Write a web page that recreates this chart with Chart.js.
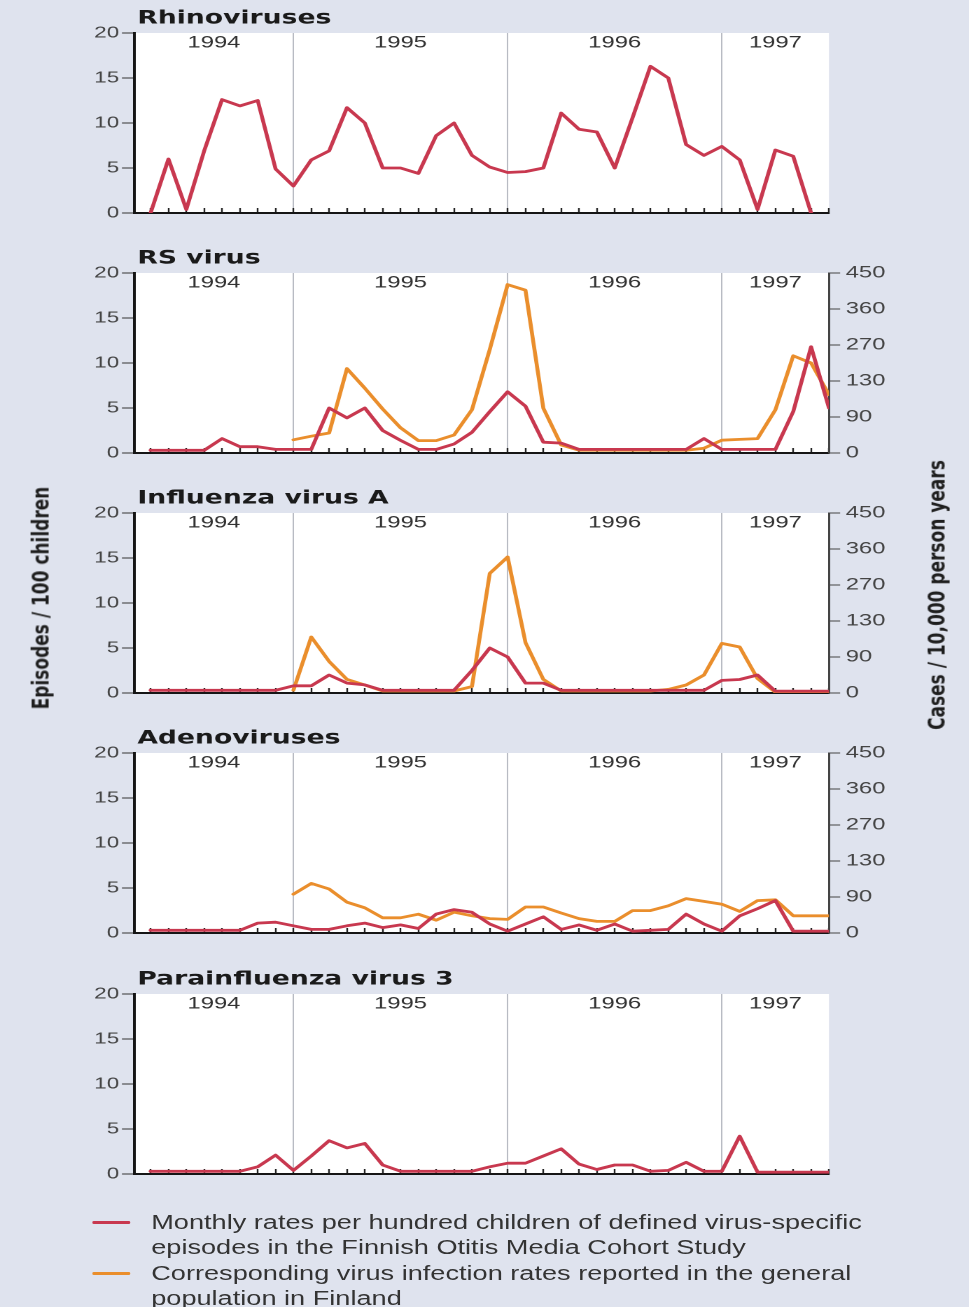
<!DOCTYPE html>
<html>
<head>
<meta charset="utf-8">
<script src="https://cdn.jsdelivr.net/npm/chart.js@4.4.1/dist/chart.umd.min.js"></script>
<style>
  html, body { margin: 0; padding: 0; width: 969px; height: 1307px; overflow: hidden; background: #dfe3ee; }
  #stage { position: absolute; left: 0; top: 0; width: 692px; height: 1307px; transform: scaleX(1.4); transform-origin: 0 0; }
  .panel { position: absolute; left: 0; width: 692px; height: 240px; }
  .vlabel { position: absolute; font-family: "DejaVu Sans", sans-serif; font-weight: bold; font-size: 17px; color: #1e1e1e;
            white-space: nowrap; transform: translate(-50%, -50%) rotate(-90deg); }
  .legend-item { position: absolute; left: 0; width: 692px; }
  .swatch { position: absolute; left: 66px; width: 27px; height: 3px; border-radius: 1px; }
  .legend-text { position: absolute; left: 108px; font-family: "Liberation Sans", Arial, sans-serif; font-size: 19.4px;
                 line-height: 25px; color: #333; white-space: nowrap; }
</style>
</head>
<body>
<div id="stage"></div>
<script>
// ---------------- data ----------------
const months = ['May 1994','Jun 1994','Jul 1994','Aug 1994','Sep 1994','Oct 1994','Nov 1994','Dec 1994',
  'Jan 1995','Feb 1995','Mar 1995','Apr 1995','May 1995','Jun 1995','Jul 1995','Aug 1995','Sep 1995','Oct 1995','Nov 1995','Dec 1995',
  'Jan 1996','Feb 1996','Mar 1996','Apr 1996','May 1996','Jun 1996','Jul 1996','Aug 1996','Sep 1996','Oct 1996','Nov 1996','Dec 1996',
  'Jan 1997','Feb 1997','Mar 1997','Apr 1997','May 1997','Jun 1997','Jul 1997'];
const yearLabels = ['1994', '1995', '1996', '1997'];
const panelTitles = ['Rhinoviruses', 'RS virus', 'Influenza virus A', 'Adenoviruses', 'Parainfluenza virus 3'];
const seriesNames = [
  ['Monthly rates per hundred children of defined virus-specific', 'episodes in the Finnish Otitis Media Cohort Study'],
  ['Corresponding virus infection rates reported in the general', 'population in Finland']
];
const leftAxisTitle = 'Episodes / 100 children';
const rightAxisTitle = 'Cases / 10,000 person years';
const rightTickValues = [0, 90, 180, 270, 360, 450];
const rightTickLabels = ['0', '90', '130', '270', '360', '450'];

// episodes / 100 children (cohort study)
const rhinoChildren = [0, 6.0, 0.4, 6.9, 12.6, 11.9, 12.5, 4.9, 3.0, 5.9, 6.9, 11.7, 10.0, 5.0, 5.0, 4.4, 8.6, 10.0, 6.4, 5.1,
  4.5, 4.6, 5.0, 11.1, 9.3, 9.0, 5.0, 10.6, 16.3, 15.0, 7.6, 6.4, 7.4, 5.9, 0.4, 7.0, 6.3, 0];
const rsChildren = [0.3, 0.3, 0.3, 0.3, 1.6, 0.7, 0.7, 0.4, 0.4, 0.4, 5.0, 3.9, 5.0, 2.5, 1.4, 0.4, 0.4, 1.0, 2.3, 4.6,
  6.8, 5.2, 1.2, 1.1, 0.4, 0.4, 0.4, 0.4, 0.4, 0.4, 0.4, 1.6, 0.4, 0.4, 0.4, 0.4, 4.6, 11.8, 5.0];
const fluChildren = [0.3, 0.3, 0.3, 0.3, 0.3, 0.3, 0.3, 0.3, 0.8, 0.8, 2.0, 1.1, 0.9, 0.3, 0.3, 0.3, 0.3, 0.3, 2.5, 5.0,
  4.0, 1.1, 1.1, 0.3, 0.3, 0.3, 0.3, 0.3, 0.3, 0.3, 0.3, 0.3, 1.4, 1.5, 2.0, 0.2, 0.2, 0.2, 0.2];
const adenoChildren = [0.3, 0.3, 0.3, 0.3, 0.3, 0.3, 1.1, 1.2, 0.8, 0.4, 0.4, 0.8, 1.1, 0.6, 0.9, 0.5, 2.1, 2.6, 2.3, 1.0,
  0.2, 1.0, 1.8, 0.4, 0.9, 0.3, 1.0, 0.2, 0.3, 0.4, 2.1, 1.0, 0.2, 1.9, 2.7, 3.6, 0.2, 0.2, 0.2];
const para3Children = [0.3, 0.3, 0.3, 0.3, 0.3, 0.3, 0.8, 2.1, 0.4, 2.0, 3.7, 2.9, 3.4, 1.0, 0.3, 0.3, 0.3, 0.3, 0.3, 0.8,
  1.2, 1.2, 2.0, 2.8, 1.1, 0.5, 1.0, 1.0, 0.3, 0.4, 1.3, 0.3, 0.3, 4.2, 0.2, 0.2, 0.2, 0.2, 0.2];

// cases / 10,000 person years (general population), reported from Jan 1995
const rsPopulation = [null, null, null, null, null, null, null, null, 33, 42, 50, 211, 162, 110, 63, 31, 31, 45, 108, 259,
  421, 407, 112, 20, 7, 7, 7, 7, 7, 7, 7, 12, 32, 34, 36, 108, 243, 225, 146];
const fluPopulation = [null, null, null, null, null, null, null, null, 7, 140, 79, 34, 20, 5, 5, 5, 5, 5, 16, 299,
  340, 126, 34, 5, 5, 5, 5, 5, 5, 9, 20, 45, 124, 115, 36, 2, 2, 2, 2];
const adenoPopulation = [null, null, null, null, null, null, null, null, 97, 124, 110, 77, 63, 38, 38, 47, 32, 52, 43, 36,
  34, 65, 65, 50, 36, 29, 29, 56, 56, 68, 86, 79, 72, 54, 81, 83, 43, 43, 43];

const panelChildren = [rhinoChildren, rsChildren, fluChildren, adenoChildren, para3Children];
const panelPopulation = [null, rsPopulation, fluPopulation, adenoPopulation, null];

// ---------------- layout / style ----------------
const RED = '#c8384f';
const ORANGE = '#ea8e2c';
const LEFT_W = 96.1;
const RIGHT_W = 99.9;
const PLOT_TOP = 33;
const PANEL_H = 240;
const PANEL_TOPS = [0, 240, 480, 720, 960.5];
const X_MIN = -0.9, X_MAX = 38;

Chart.defaults.font.family = '"Liberation Sans", Arial, sans-serif';

const yearStarts = months.map((m, i) => (m.startsWith('Jan') ? i : -1)).filter(i => i >= 0);

const panelDecor = {
  id: 'panelDecor',
  beforeDraw(chart) {
    const a = chart.chartArea, ctx = chart.ctx;
    ctx.save();
    ctx.fillStyle = '#ffffff';
    ctx.fillRect(a.left, a.top, a.right - a.left, a.bottom - a.top);
    ctx.restore();
  },
  beforeDatasetsDraw(chart, args, opts) {
    const a = chart.chartArea, ctx = chart.ctx, xs = chart.scales.x;
    const bounds = [xs.min, ...yearStarts, xs.max];
    ctx.save();
    ctx.font = '17px "Liberation Sans", Arial, sans-serif';
    ctx.fillStyle = '#333';
    ctx.textAlign = 'center';
    ctx.textBaseline = 'alphabetic';
    yearLabels.forEach((label, i) => {
      const cx = (xs.getPixelForValue(bounds[i]) + xs.getPixelForValue(bounds[i + 1])) / 2;
      ctx.fillText(label, cx, a.top + 14.5);
    });
    ctx.font = 'bold 19px "DejaVu Sans", sans-serif';
    ctx.fillStyle = '#1a1a1a';
    ctx.textAlign = 'left';
    ctx.fillText(opts.title, a.left + 2, a.top - 9.5);
    ctx.restore();
  }
};

const stage = document.getElementById('stage');

function toXY(arr) {
  const out = [];
  arr.forEach((v, i) => { if (v !== null) out.push({ x: i, y: v }); });
  return out;
}

function makePanel(k) {
  const div = document.createElement('div');
  div.className = 'panel';
  div.style.top = PANEL_TOPS[k] + 'px';
  const canvas = document.createElement('canvas');
  div.appendChild(canvas);
  stage.appendChild(div);

  const pop = panelPopulation[k];
  const showRight = !!pop;
  const datasets = [{
    label: seriesNames[0].join(' '),
    data: toXY(panelChildren[k]),
    borderColor: RED, backgroundColor: RED, borderWidth: 2.8,
    pointRadius: 0, tension: 0, yAxisID: 'y', borderJoinStyle: 'round', borderCapStyle: 'round'
  }];
  if (pop) {
    datasets.push({
      label: seriesNames[1].join(' '),
      data: toXY(pop),
      borderColor: ORANGE, backgroundColor: ORANGE, borderWidth: 2.8,
      pointRadius: 0, tension: 0, yAxisID: 'y2', borderJoinStyle: 'round', borderCapStyle: 'round'
    });
  }

  const scales = {
    x: {
      type: 'linear', min: X_MIN, max: X_MAX, bounds: 'data',
      afterBuildTicks: s => { s.ticks = months.map((m, i) => ({ value: i })); },
      afterFit: s => { s.height = PANEL_H - PLOT_TOP - 180; },
      ticks: { display: false, autoSkip: false },
      grid: {
        drawOnChartArea: true, drawTicks: true, tickLength: -5, tickWidth: 1.2, tickColor: '#222',
        lineWidth: 1,
        color: c => (c.tick && yearStarts.includes(c.tick.value)) ? '#b8bbc3' : 'rgba(0,0,0,0)'
      },
      border: { display: true, color: '#151515', width: 2 }
    },
    y: {
      position: 'left', min: 0, max: 20,
      afterFit: s => { s.width = LEFT_W; },
      ticks: { stepSize: 5, color: '#444', padding: 2, font: { size: 16 } },
      grid: { drawOnChartArea: false, drawTicks: true, tickLength: 9, tickWidth: 1, tickColor: '#333' },
      border: { display: true, color: '#151515', width: 2 }
    }
  };
  if (showRight) {
    scales.y2 = {
      position: 'right', min: 0, max: 450,
      afterFit: s => { s.width = RIGHT_W; },
      afterBuildTicks: s => { s.ticks = rightTickValues.map(v => ({ value: v })); },
      ticks: {
        color: '#444', padding: 4, font: { size: 17 },
        callback: v => rightTickLabels[rightTickValues.indexOf(v)]
      },
      grid: { drawOnChartArea: false, drawTicks: true, tickLength: 8, tickWidth: 1, tickColor: '#444' },
      border: { display: true, color: '#444', width: 1.5 }
    };
  }

  new Chart(canvas, {
    type: 'line',
    data: { datasets },
    options: {
      responsive: true, maintainAspectRatio: false, animation: false,
      devicePixelRatio: 2,
      layout: { padding: { top: PLOT_TOP, left: 0, right: showRight ? 0 : RIGHT_W, bottom: 0 } },
      plugins: {
        legend: { display: false },
        tooltip: { enabled: false },
        panelDecor: { title: panelTitles[k] }
      },
      scales
    },
    plugins: [panelDecor]
  });
}

for (let k = 0; k < panelTitles.length; k++) makePanel(k);

// axis titles
function addVLabel(text, cx, cy) {
  const d = document.createElement('div');
  d.className = 'vlabel';
  d.textContent = text;
  d.style.left = cx + 'px';
  d.style.top = cy + 'px';
  stage.appendChild(d);
}
addVLabel(leftAxisTitle, 28.6, 598);
addVLabel(rightAxisTitle, 669.3, 595);

// legend
const legendColors = [RED, ORANGE];
const legendTops = [1209.5, 1260.5];
seriesNames.forEach((lines, i) => {
  const item = document.createElement('div');
  item.className = 'legend-item';
  item.style.top = legendTops[i] + 'px';
  const sw = document.createElement('div');
  sw.className = 'swatch';
  sw.style.background = legendColors[i];
  sw.style.top = '11px';
  const tx = document.createElement('div');
  tx.className = 'legend-text';
  tx.innerHTML = lines.join('<br>');
  item.appendChild(sw);
  item.appendChild(tx);
  stage.appendChild(item);
});
</script>
</body>
</html>
